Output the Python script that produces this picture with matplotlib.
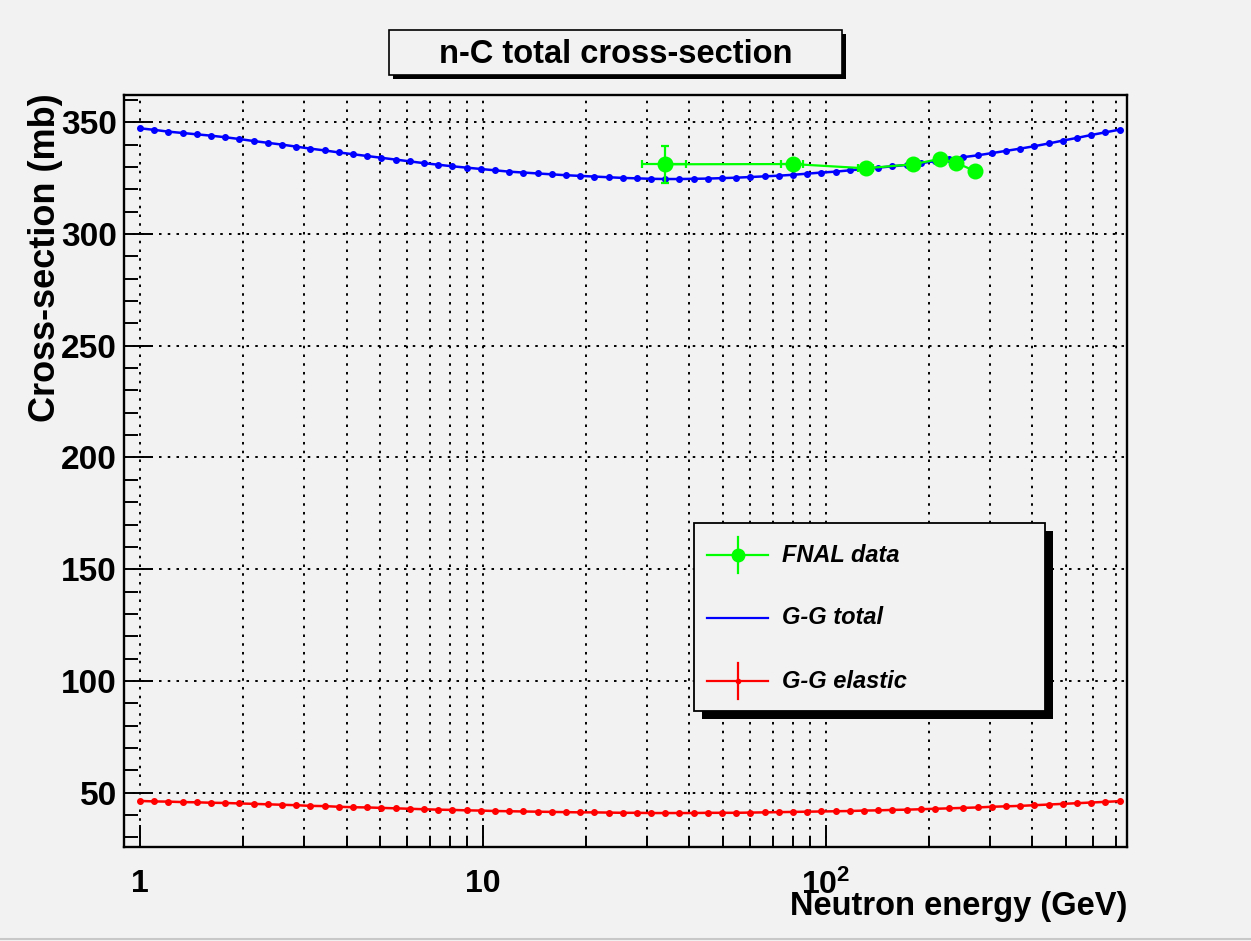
import numpy as np
import matplotlib
matplotlib.use("Agg")
import matplotlib.pyplot as plt
from matplotlib.patches import Rectangle
from matplotlib.ticker import FixedLocator, MultipleLocator, NullFormatter

plt.rcParams['font.family'] = ['Liberation Sans', 'DejaVu Sans']
plt.rcParams['mathtext.fontset'] = 'custom'
plt.rcParams['mathtext.rm'] = 'Liberation Sans'
plt.rcParams['mathtext.bf'] = 'Liberation Sans:bold'

# G-G model grid (GeV)
energy = [1.0, 1.1, 1.21, 1.331, 1.4641, 1.6105, 1.7716, 1.9487, 2.1436, 2.3579,
          2.5937, 2.8531, 3.1384, 3.4523, 3.7975, 4.1772, 4.595, 5.0545, 5.5599, 6.1159,
          6.7275, 7.4002, 8.1403, 8.9543, 9.8497, 10.835, 11.918, 13.11, 14.421, 15.863,
          17.449, 19.194, 21.114, 23.225, 25.548, 28.102, 30.913, 34.004, 37.404, 41.145,
          45.259, 49.785, 54.764, 60.24, 66.264, 72.89, 80.18, 88.197, 97.017, 106.72,
          117.39, 129.13, 142.04, 156.25, 171.87, 189.06, 207.97, 228.76, 251.64, 276.8,
          304.48, 334.93, 368.42, 405.27, 445.79, 490.37, 539.41, 593.35, 652.68, 717.95]

gg_total = [347.3, 346.6, 345.8, 345.2, 344.6, 344.0, 343.3, 342.5, 341.6, 340.8,
            340.0, 339.1, 338.2, 337.4, 336.5, 335.7, 334.9, 334.1, 333.3, 332.5,
            331.7, 331.0, 330.3, 329.7, 329.1, 328.5, 327.9, 327.5, 327.1, 326.7,
            326.3, 326.0, 325.7, 325.4, 325.1, 324.9, 324.7, 324.6, 324.6, 324.7,
            324.8, 325.0, 325.2, 325.5, 325.8, 326.1, 326.5, 327.0, 327.5, 327.9,
            328.5, 329.1, 329.7, 330.3, 330.9, 331.7, 332.6, 333.5, 334.4, 335.2,
            336.2, 337.2, 338.2, 339.3, 340.5, 341.8, 343.0, 344.3, 345.5, 346.7]

gg_elastic = [46.3, 46.1, 46.0, 45.8, 45.7, 45.5, 45.4, 45.2, 45.0, 44.8,
              44.6, 44.4, 44.1, 44.0, 43.7, 43.5, 43.4, 43.2, 43.0, 42.8,
              42.6, 42.4, 42.3, 42.1, 42.0, 41.8, 41.7, 41.6, 41.5, 41.4,
              41.3, 41.2, 41.2, 41.1, 41.0, 41.0, 40.9, 40.9, 40.9, 40.9,
              41.0, 41.0, 41.0, 41.1, 41.2, 41.3, 41.4, 41.5, 41.6, 41.7,
              41.8, 42.0, 42.1, 42.3, 42.4, 42.6, 42.8, 43.0, 43.2, 43.4,
              43.7, 43.9, 44.1, 44.4, 44.7, 45.0, 45.3, 45.6, 45.9, 46.2]

# FNAL data
fnal_e = [33.9, 80.0, 130.5, 179.7, 214.8, 239.3, 271.8]
fnal_xs = [331.2, 331.3, 329.4, 331.2, 333.6, 331.9, 328.2]
fnal_e_lo = [4.9, 6.0, 6.5, 0, 0, 0, 0]
fnal_e_hi = [5.2, 5.7, 6.5, 0, 0, 0, 0]
fnal_err = [8.3, 0, 0, 0, 0, 0, 0]

bg = '#f2f2f2'
W, H = 1251, 941
fig = plt.figure(figsize=(W / 100, H / 100), dpi=100, facecolor=bg)
ax = fig.add_axes([124 / W, 1 - 847 / H, (1127 - 124) / W, (847 - 95) / H])
ax.set_facecolor(bg)

ax.set_xscale('log')
ax.set_xlim(0.898, 754.6)
ax.set_ylim(25.7, 362.2)

ax.xaxis.set_major_locator(FixedLocator([1, 10, 100]))
ax.set_xticklabels(['1', '10', r'$\mathbf{10^{2}}$'])
minors = [m * d for d in (1, 10, 100) for m in range(2, 10)]
ax.xaxis.set_minor_locator(FixedLocator(minors))
ax.xaxis.set_minor_formatter(NullFormatter())
ax.yaxis.set_major_locator(MultipleLocator(50))
ax.yaxis.set_minor_locator(MultipleLocator(10))

for lab in ax.get_xticklabels() + ax.get_yticklabels():
    lab.set_fontweight('bold')

ax.tick_params(axis='y', which='major', direction='in', length=21, width=1.4,
               labelsize=24, pad=5, right=False)
ax.tick_params(axis='y', which='minor', direction='in', length=10, width=1.4, right=False)
ax.tick_params(axis='x', which='major', direction='in', length=16, width=1.4,
               labelsize=23, pad=16, top=False)
ax.tick_params(axis='x', which='minor', direction='in', length=8, width=1.4, top=False)
for s in ax.spines.values():
    s.set_linewidth(1.7)

# grid
dots = (0, (1.3, 3.2))
for xv in [1, 10, 100] + minors:
    if xv < 754.6:
        ax.axvline(xv, color='black', lw=1.4, ls=dots, zorder=0.5)
for yv in range(50, 351, 50):
    ax.axhline(yv, color='black', lw=1.4, ls=dots, zorder=0.5)

ax.plot(energy, gg_total, color='#0000ff', lw=1.8, marker='o', ms=4, zorder=3)
ax.plot(energy, gg_elastic, color='#ff0000', lw=1.8, marker='o', ms=4, zorder=3)
ax.errorbar(fnal_e, fnal_xs, xerr=[fnal_e_lo, fnal_e_hi], yerr=fnal_err,
            fmt='-o', color='#00ff00', ms=10.5, lw=1.6, elinewidth=1.6,
            capsize=3.2, capthick=1.6, zorder=4)

# overlay in pixel coordinates for title, legend and axis titles
ov = fig.add_axes([0, 0, 1, 1])
ov.set_xlim(0, W)
ov.set_ylim(H, 0)
ov.axis('off')

ov.add_patch(Rectangle((393, 34), 453, 45, fc='black', ec='none'))
ov.add_patch(Rectangle((389, 30), 453, 45, fc=bg, ec='black', lw=1.2))
ov.text(615.5, 54, 'n-C total cross-section', fontsize=23.5, fontweight='bold',
        ha='center', va='center')

ov.add_patch(Rectangle((702, 531), 351, 188, fc='black', ec='none'))
ov.add_patch(Rectangle((694, 523), 351, 188, fc=bg, ec='black', lw=1.3))
ov.plot([707, 768], [555, 555], color='#00ff00', lw=1.6)
ov.plot([738, 738], [537, 573], color='#00ff00', lw=1.6)
ov.plot([738], [555], 'o', color='#00ff00', ms=9)
ov.plot([707, 768], [618, 618], color='#0000ff', lw=1.6)
ov.plot([707, 768], [681, 681], color='#ff0000', lw=1.6)
ov.plot([738, 738], [663, 699], color='#ff0000', lw=1.6)
ov.plot([738], [681], 'o', color='#ff0000', ms=3)
for yy, lab in [(555, 'FNAL data'), (618, 'G-G total'), (681, 'G-G elastic')]:
    ov.text(782, yy, lab, fontsize=17, fontweight='bold', fontstyle='italic',
            ha='left', va='center')

ov.text(1127, 891, 'Neutron energy (GeV)', fontsize=23.5, fontweight='bold',
        ha='right', va='top')
ov.text(46, 93, 'Cross-section (mb)', fontsize=26, fontweight='bold',
        rotation=90, ha='center', va='top')
ov.plot([0, W], [939, 939], color='#c8c8c8', lw=1.5)

fig.savefig('out.png', dpi=100, facecolor=bg)
